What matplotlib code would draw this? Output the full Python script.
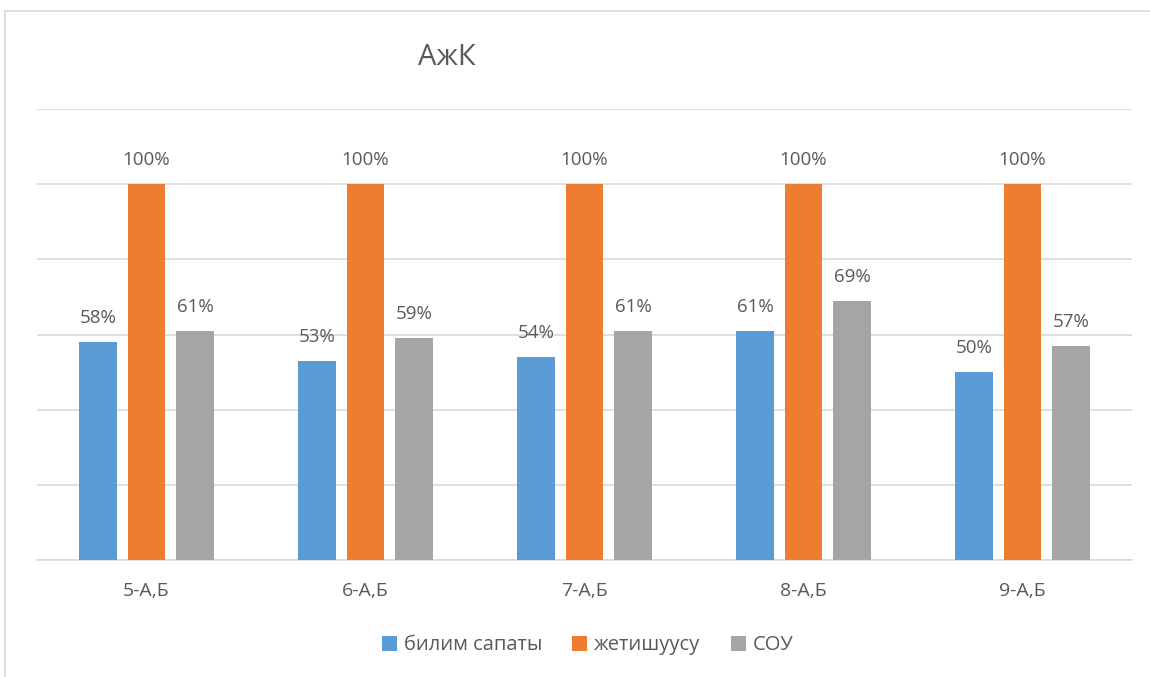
import matplotlib
matplotlib.use("Agg")
import matplotlib.pyplot as plt
import numpy as np
from matplotlib.lines import Line2D

plt.rcParams['font.family'] = ['Open Sans', 'DejaVu Sans']

# data
categories = ["5-А,Б", "6-А,Б", "7-А,Б", "8-А,Б", "9-А,Б"]
series_names = ["билим сапаты", "жетишуусу", "СОУ"]
bilim = [58, 53, 54, 61, 50]
jetish = [100, 100, 100, 100, 100]
sou = [61, 59, 61, 69, 57]

colors = ["#5B9BD5", "#ED7D31", "#A5A5A5"]
text_col = "#595959"
grid_col = "#D9D9D9"

fig = plt.figure(figsize=(11.5, 6.77), dpi=100)
ax = fig.add_axes([0.0322, 0.1728, 0.9522, 0.6662])

x = np.arange(len(categories))
w = 0.172
step = 0.222
for i, (vals, name) in enumerate(zip([bilim, jetish, sou], series_names)):
    pos = x + (i - 1) * step
    ax.bar(pos, vals, width=w, color=colors[i], label=name, zorder=3)
    for px, v in zip(pos, vals):
        ax.text(px, v + 4, f"{v}%", ha="center", va="bottom",
                fontsize=13.5, color=text_col)

ax.set_xlim(-0.5, len(categories) - 0.5)
ax.set_ylim(0, 120)
ax.set_yticks(np.arange(0, 121, 20))
ax.yaxis.grid(True, color=grid_col, linewidth=1.2, zorder=0)
ax.tick_params(axis="y", left=False, labelleft=False)
ax.set_xticks(x)
ax.set_xticklabels(categories, fontsize=14, color=text_col)
ax.tick_params(axis="x", length=0, pad=16)
for s in ["top", "right", "left"]:
    ax.spines[s].set_visible(False)
ax.spines["bottom"].set_color(grid_col)
ax.spines["bottom"].set_linewidth(1.2)

fig.text(0.389, 0.915, "АжК", ha="center", va="center", fontsize=21, color=text_col)

leg = fig.legend(loc="center", bbox_to_anchor=(0.511, 0.047), ncol=3, frameon=False,
                 fontsize=14.5, handlelength=0.75, handleheight=0.75,
                 handletextpad=0.35, columnspacing=1.5)
for t in leg.get_texts():
    t.set_color(text_col)

# outer chart border (left and top edges visible)
fig.add_artist(Line2D([0.004, 0.004], [0, 1 - 11 / 677], color=grid_col, linewidth=1.2))
fig.add_artist(Line2D([0.004, 1], [1 - 11 / 677, 1 - 11 / 677], color=grid_col, linewidth=1.2))

fig.savefig("out.png", dpi=100, facecolor="white")
